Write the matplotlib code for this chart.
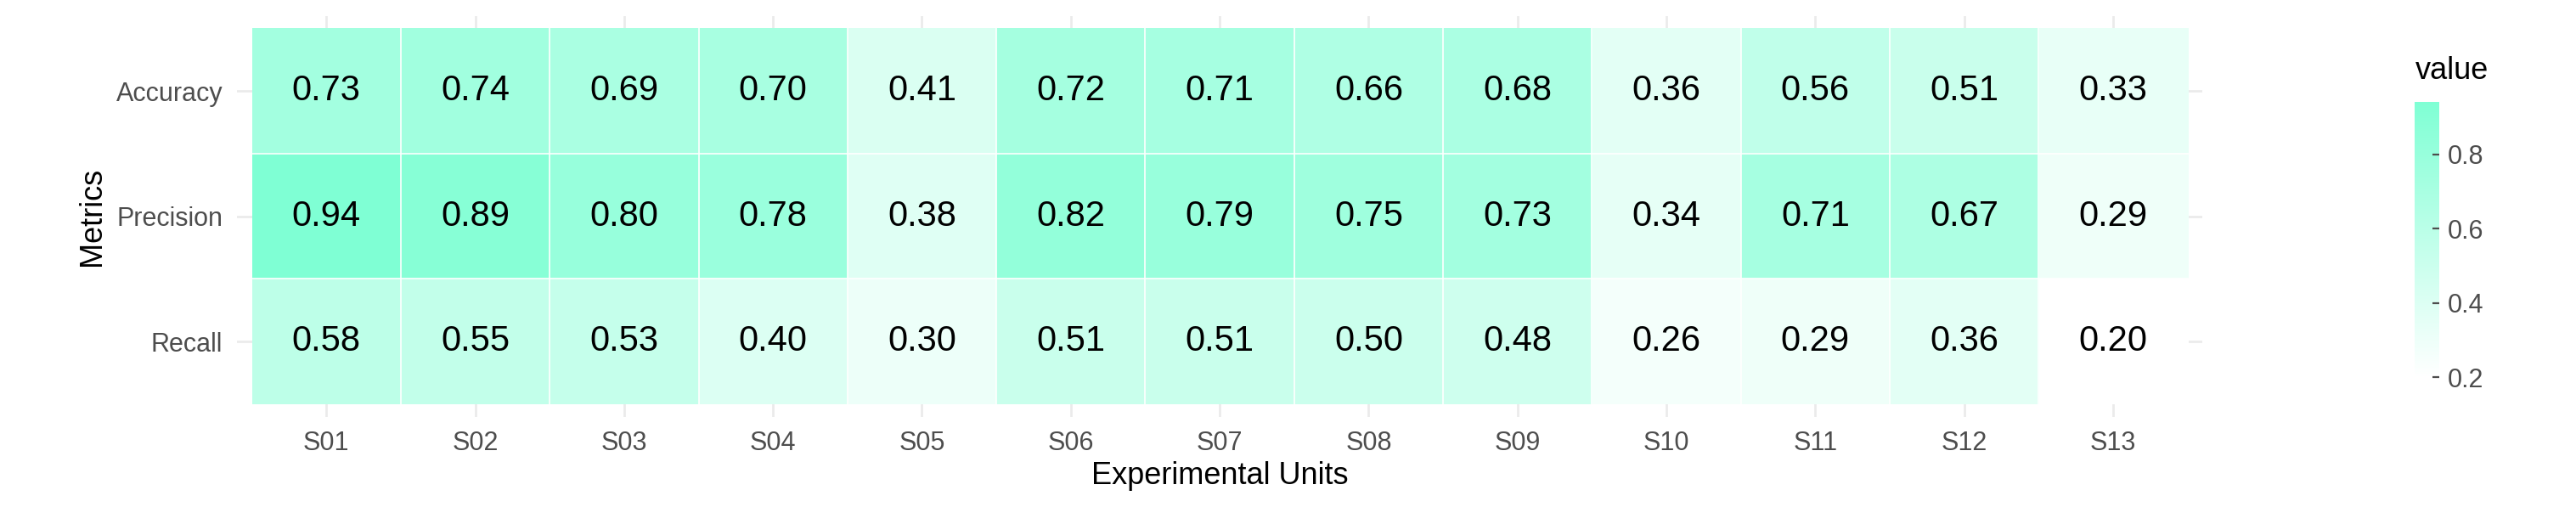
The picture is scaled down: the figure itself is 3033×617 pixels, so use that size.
import matplotlib
matplotlib.use("Agg")
import matplotlib.pyplot as plt
import numpy as np
from matplotlib.colors import LinearSegmentedColormap

plt.rcParams['font.family'] = ['Liberation Sans', 'DejaVu Sans']

units = ["S01","S02","S03","S04","S05","S06","S07","S08","S09","S10","S11","S12","S13"]
metrics = ["Accuracy","Precision","Recall"]
accuracy = [0.73,0.74,0.69,0.70,0.41,0.72,0.71,0.66,0.68,0.36,0.56,0.51,0.33]
precision = [0.94,0.89,0.80,0.78,0.38,0.82,0.79,0.75,0.73,0.34,0.71,0.67,0.29]
recall = [0.58,0.55,0.53,0.40,0.30,0.51,0.51,0.50,0.48,0.26,0.29,0.36,0.20]

data = np.array([accuracy, precision, recall])
cmap = LinearSegmentedColormap.from_list("aq", ["#FFFFFF", "#7FFFD4"])
vmin, vmax = data.min(), data.max()

fig = plt.figure(figsize=(15.165, 3.085), dpi=200)
ax = fig.add_axes([0.092, 0.205, 0.763, 0.765])
ax.set_xlim(-0.6, len(units)-0.4)
ax.set_ylim(len(metrics)-0.4, -0.6)
for x in range(len(units)):
    ax.axvline(x, color="#EBEBEB", lw=1, zorder=0)
for y in range(len(metrics)):
    ax.axhline(y, color="#EBEBEB", lw=1, zorder=0)
im = ax.imshow(data, cmap=cmap, vmin=vmin, vmax=vmax, aspect="auto",
               extent=(-0.5, len(units)-0.5, len(metrics)-0.5, -0.5), zorder=1)
for x in np.arange(0.5, len(units)-1, 1):
    ax.plot([x, x], [-0.5, 2.5], color="white", lw=0.6, zorder=2)
for y in [0.5, 1.5]:
    ax.plot([-0.5, len(units)-0.5], [y, y], color="white", lw=0.6, zorder=2)
for i in range(len(metrics)):
    for j in range(len(units)):
        ax.text(j, i, f"{data[i, j]:.2f}", ha="center", va="center", fontsize=15, color="black", zorder=3)
ax.set_xticks(range(len(units)))
ax.set_xticklabels(units, fontsize=11, color="#4D4D4D")
ax.set_yticks(range(len(metrics)))
ax.set_yticklabels(metrics, fontsize=11, color="#4D4D4D")
ax.tick_params(length=0, pad=6)
for s in ax.spines.values():
    s.set_visible(False)
ax.set_xlabel("Experimental Units", fontsize=13, labelpad=2)
ax.set_ylabel("Metrics", fontsize=13)

cax = fig.add_axes([0.9375, 0.28, 0.0095, 0.525])
cb = fig.colorbar(im, cax=cax, ticks=[0.2, 0.4, 0.6, 0.8])
cb.outline.set_visible(False)
cb.ax.tick_params(labelsize=11, length=3, colors="#4D4D4D", direction="in")
cb.ax.set_title("value", fontsize=13, loc="left", pad=10)

fig.savefig("out.png", dpi=200)
